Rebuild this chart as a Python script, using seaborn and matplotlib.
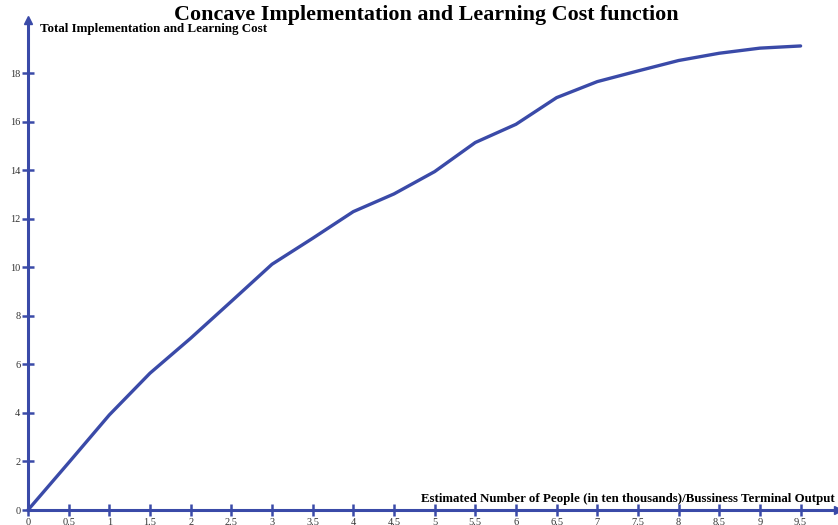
import matplotlib
matplotlib.use("Agg")
import matplotlib.pyplot as plt
import seaborn as sns
import pandas as pd

x_values = [0, 0.5, 1, 1.5, 2, 2.5, 3, 3.5, 4, 4.5, 5, 5.5, 6, 6.5, 7, 7.5, 8, 8.5, 9, 9.5]
cost_values = [0, 1.95, 3.92, 5.64, 7.08, 8.6, 10.13, 11.2, 12.3, 13.03, 13.95, 15.15,
               15.9, 17.0, 17.66, 18.1, 18.53, 18.83, 19.04, 19.13]
x_ticks = [0, 0.5, 1, 1.5, 2, 2.5, 3, 3.5, 4, 4.5, 5, 5.5, 6, 6.5, 7, 7.5, 8, 8.5, 9, 9.5]
x_tick_labels = ["0", "0.5", "1", "1.5", "2", "2.5", "3", "3.5", "4", "4.5", "5", "5.5",
                 "6", "6.5", "7", "7.5", "8", "8.5", "9", "9.5"]
y_ticks = [0, 2, 4, 6, 8, 10, 12, 14, 16, 18]

title = "Concave Implementation and Learning Cost function"
y_label = "Total Implementation and Learning Cost"
x_label = "Estimated Number of People (in ten thousands)/Bussiness Terminal Output"

sns.set_style("white")
plt.rcParams['font.family'] = ['Liberation Serif', 'DejaVu Serif']

blue = "#3a4aa8"
df = pd.DataFrame({"x": x_values, "cost": cost_values})

fig = plt.figure(figsize=(8.38, 5.25), dpi=100)
ax = fig.add_axes([28 / 838, 15 / 525, 1 - 28 / 838, 490 / 525])
sns.lineplot(data=df, x="x", y="cost", ax=ax, color=blue, linewidth=2.4, clip_on=False)

ax.set_xlim(0, 9.96)
ax.set_ylim(0, 20.2)
ax.set_xticks(x_ticks)
ax.set_xticklabels(x_tick_labels)
ax.set_yticks(y_ticks)
ax.set_yticklabels([str(v) for v in y_ticks])

for side in ("top", "right"):
    ax.spines[side].set_visible(False)
for side in ("left", "bottom"):
    ax.spines[side].set_color(blue)
    ax.spines[side].set_linewidth(2.2)
    ax.spines[side].set_zorder(1)

ax.tick_params(axis="both", which="major", bottom=True, left=True,
               direction="inout", length=9, width=1.8, color=blue,
               labelsize=7.5, labelcolor="#333333")
ax.tick_params(axis="x", pad=1)
ax.tick_params(axis="y", pad=1)

# arrow heads on the axes
ax.plot(1, 0, ">", transform=ax.get_yaxis_transform(), clip_on=False,
        color=blue, markersize=6)
ax.plot(0, 1, "^", transform=ax.get_xaxis_transform(), clip_on=False,
        color=blue, markersize=6)

ax.set_xlabel("")
ax.set_ylabel("")
ax.grid(False)

fig.text(426 / 838, 1 - 15 / 525, title, ha="center", va="center",
         fontsize=15.8, fontweight="bold", color="black")
fig.text(40 / 838, 1 - 29 / 525, y_label, ha="left", va="center",
         fontsize=9.4, fontweight="bold", color="black")
fig.text(835 / 838, 1 - 499 / 525, x_label, ha="right", va="center",
         fontsize=9.3, fontweight="bold", color="black")

fig.savefig("out.png", dpi=100)
